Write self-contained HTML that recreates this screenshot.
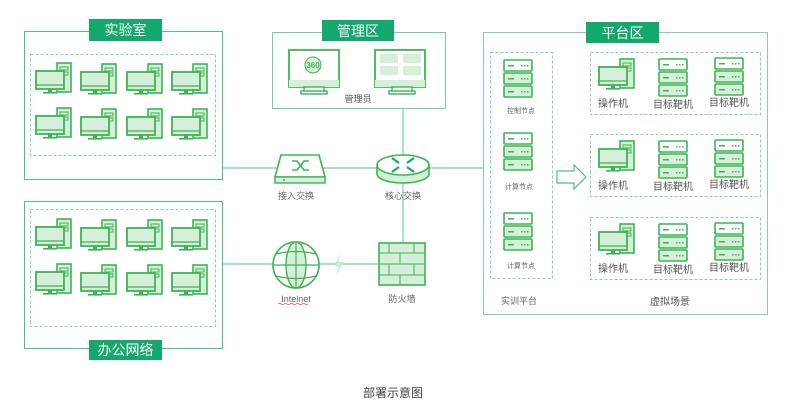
<!DOCTYPE html>
<html><head><meta charset="utf-8"><style>
html,body{margin:0;padding:0;background:#fff;}
svg{display:block;font-family:"Liberation Sans","Noto Sans CJK SC",sans-serif;}
</style></head><body>
<svg width="785" height="405" viewBox="0 0 785 405" xmlns="http://www.w3.org/2000/svg">
<defs>
<g id="pc">
  <rect x="22" y="1" width="14" height="29" fill="#d6efd9" stroke="#3cb553" stroke-width="1.6"/>
  <rect x="25" y="5" width="8" height="3" fill="none" stroke="#3cb553" stroke-width="1"/>
  <rect x="25" y="10" width="8" height="3" fill="none" stroke="#3cb553" stroke-width="1"/>
  <rect x="1" y="9" width="28" height="18" fill="#d6efd9" stroke="#3cb553" stroke-width="1.8"/>
  <line x1="1" y1="23" x2="29" y2="23" stroke="#3cb553" stroke-width="1.2"/>
  <rect x="13" y="27" width="4" height="3" fill="#3cb553"/>
  <rect x="8" y="30" width="14" height="1.6" fill="#3cb553"/>
</g>
<g id="srv">
  <rect x="1" y="1" width="28" height="11" rx="1" fill="#fff" stroke="#3cb553" stroke-width="1.6"/>
  <rect x="1" y="14" width="28" height="11" rx="1" fill="#d6efd9" stroke="#3cb553" stroke-width="1.6"/>
  <rect x="1" y="27" width="28" height="11" rx="1" fill="#d6efd9" stroke="#3cb553" stroke-width="1.6"/>
  <g fill="#3cb553">
   <rect x="5" y="6" width="6" height="1.5"/><rect x="18" y="6" width="1.5" height="1.5"/><rect x="21" y="6" width="1.5" height="1.5"/><rect x="24" y="6" width="1.5" height="1.5"/>
   <rect x="5" y="19" width="6" height="1.5"/><rect x="18" y="19" width="1.5" height="1.5"/><rect x="21" y="19" width="1.5" height="1.5"/><rect x="24" y="19" width="1.5" height="1.5"/>
   <rect x="5" y="32" width="6" height="1.5"/><rect x="18" y="32" width="1.5" height="1.5"/><rect x="21" y="32" width="1.5" height="1.5"/><rect x="24" y="32" width="1.5" height="1.5"/>
  </g>
</g>
</defs>

<!-- lines -->
<g stroke="#6fd0a6" stroke-width="1.2" fill="none">
  <line x1="222" y1="168" x2="483" y2="168"/>
  <line x1="403" y1="95" x2="403" y2="243"/>
  <line x1="222" y1="264" x2="379" y2="264"/>
</g>
<path d="M340 254 L334 266 L339 266 L336 276 L344 262 L339 262 Z" fill="#c6ecd6"/>

<!-- Lab -->
<rect x="24.5" y="31.5" width="198" height="148" fill="none" stroke="#4cc08a" stroke-width="1"/>
<rect x="30.5" y="54.5" width="185" height="101" fill="none" stroke="#7fd4ae" stroke-dasharray="3,2"/>
<rect x="89" y="19" width="73" height="22" fill="#14a96c"/>
<text x="125.5" y="35" font-size="14" fill="#fff" text-anchor="middle">实验室</text>
<use href="#pc" x="35" y="62"/><use href="#pc" x="80" y="63"/><use href="#pc" x="126" y="63"/><use href="#pc" x="171" y="63"/>
<use href="#pc" x="35" y="107"/><use href="#pc" x="80" y="108"/><use href="#pc" x="126" y="108"/><use href="#pc" x="171" y="108"/>

<!-- Office -->
<rect x="24.5" y="201.5" width="198" height="147" fill="none" stroke="#4cc08a" stroke-width="1"/>
<rect x="30.5" y="209.5" width="185" height="117" fill="none" stroke="#7fd4ae" stroke-dasharray="3,2"/>
<rect x="89" y="340" width="73" height="20" fill="#14a96c"/>
<text x="125.5" y="355" font-size="14" fill="#fff" text-anchor="middle">办公网络</text>
<use href="#pc" x="35" y="218"/><use href="#pc" x="80" y="219"/><use href="#pc" x="126" y="219"/><use href="#pc" x="171" y="219"/>
<use href="#pc" x="35" y="263"/><use href="#pc" x="80" y="264"/><use href="#pc" x="126" y="264"/><use href="#pc" x="171" y="264"/>

<!-- Mgmt -->
<rect x="272.5" y="32.5" width="173" height="76" fill="#fff" stroke="#6fd0a6" stroke-width="1"/>
<rect x="322" y="20" width="72" height="21" fill="#14a96c"/>
<text x="358" y="36" font-size="14" fill="#fff" text-anchor="middle">管理区</text>
<g stroke="#3cb553" stroke-width="1.8">
 <rect x="289" y="50" width="50" height="37" fill="#fff"/>
 <rect x="289" y="80" width="50" height="7" fill="#d6efd9" stroke-width="0"/>
 <rect x="304" y="87" width="20" height="5" fill="#fff" stroke-width="1.4"/>
 <rect x="301" y="91" width="26" height="3" fill="#fff" stroke-width="1.4"/>
 <rect x="375" y="50" width="50" height="37" fill="#fff"/>
 <rect x="375" y="80" width="50" height="7" fill="#d6efd9" stroke-width="0"/>
 <rect x="392" y="87" width="20" height="5" fill="#fff" stroke-width="1.4"/>
 <rect x="389" y="91" width="26" height="3" fill="#fff" stroke-width="1.4"/>
</g>
<circle cx="313" cy="65" r="8" fill="#d6efd9" stroke="#3cb553"/>
<text x="313" y="68" font-size="8" font-weight="bold" fill="#3cb553" text-anchor="middle">360</text>
<g fill="#d6efd9"><rect x="380" y="54" width="18" height="9"/><rect x="403" y="54" width="18" height="9"/><rect x="380" y="66" width="18" height="9"/><rect x="403" y="66" width="18" height="9"/></g>
<text x="358" y="102" font-size="9" fill="#555" text-anchor="middle">管理员</text>

<!-- switch -->
<path d="M281 155 L319 155 L325 177 L275 177 Z" fill="#fff" stroke="#3cb553" stroke-width="1.6"/>
<rect x="275" y="177" width="50" height="6" fill="#d6efd9" stroke="#3cb553" stroke-width="1.4"/>
<circle cx="284" cy="180" r="1" fill="#3cb553"/>
<path d="M292 161 h5 l7 9 h5 M292 170 h5 l7 -9 h5" fill="none" stroke="#3cb553" stroke-width="1.6"/>
<text x="296" y="199" font-size="9" fill="#666" text-anchor="middle">接入交换</text>

<!-- router -->
<path d="M377 165 v9 a26 9 0 0 0 52 0 v-9" fill="#d6efd9" stroke="#3cb553" stroke-width="1.6"/>
<ellipse cx="403" cy="165" rx="26" ry="10" fill="#fff" stroke="#3cb553" stroke-width="1.6"/>
<g stroke="#14a96c" stroke-width="2.2"><line x1="392" y1="158" x2="399" y2="163"/><line x1="414" y1="158" x2="407" y2="163"/><line x1="392" y1="172" x2="399" y2="167"/><line x1="414" y1="172" x2="407" y2="167"/></g>
<text x="403" y="199" font-size="9" fill="#666" text-anchor="middle">核心交换</text>

<!-- globe -->
<circle cx="296" cy="265" r="23" fill="#fff" stroke="#3cb553" stroke-width="1.6"/>
<ellipse cx="296" cy="265" rx="10" ry="23" fill="#d6efd9" stroke="#3cb553" stroke-width="1.4"/>
<line x1="296" y1="242" x2="296" y2="288" stroke="#3cb553" stroke-width="1.2"/>
<path d="M276 254 Q296 249 316 254 M273 265 H319 M276 276 Q296 281 316 276" fill="none" stroke="#3cb553" stroke-width="1.2"/>
<text x="296" y="302" font-size="9" fill="#666" text-anchor="middle">Intelnet</text>
<path d="M278 304 q1.5 -1.5 3 0 t3 0 t3 0 t3 0 t3 0 t3 0 t3 0 t3 0 t3 0 t3 0" fill="none" stroke="#e44" stroke-width="0.7"/>

<!-- firewall -->
<rect x="379" y="243" width="46" height="42" fill="#d6efd9" stroke="#3cb553" stroke-width="1.6"/>
<g stroke="#3cb553" stroke-width="1"><line x1="379" y1="253" x2="425" y2="253"/><line x1="379" y1="264" x2="425" y2="264"/><line x1="379" y1="275" x2="425" y2="275"/>
<line x1="389" y1="243" x2="389" y2="253"/><line x1="414" y1="243" x2="414" y2="253"/><line x1="400" y1="253" x2="400" y2="264"/><line x1="389" y1="264" x2="389" y2="275"/><line x1="414" y1="264" x2="414" y2="275"/><line x1="400" y1="275" x2="400" y2="285"/></g>
<text x="402" y="302" font-size="9" fill="#666" text-anchor="middle">防火墙</text>

<!-- platform -->
<rect x="483.5" y="32.5" width="284" height="282" fill="none" stroke="#7fd4ae" stroke-width="1"/>
<rect x="586" y="22" width="73" height="21" fill="#14a96c"/>
<text x="622.5" y="38" font-size="14" fill="#fff" text-anchor="middle">平台区</text>
<rect x="490.5" y="52.5" width="62" height="226" fill="none" stroke="#7fd4ae" stroke-dasharray="3,2"/>
<use href="#srv" x="503" y="59"/><use href="#srv" x="503" y="132"/><use href="#srv" x="503" y="212"/>
<text x="521" y="113" font-size="7" fill="#666" text-anchor="middle">控制节点</text>
<text x="519" y="189" font-size="7" fill="#666" text-anchor="middle">计算节点</text>
<text x="521" y="268" font-size="7" fill="#666" text-anchor="middle">计算节点</text>
<text x="519" y="304" font-size="9" fill="#666" text-anchor="middle">实训平台</text>
<path d="M557 171 h17 v-6 l12 12 l-12 12 v-6 h-17 z" fill="#fff" stroke="#4cc08a" stroke-width="1.2"/>
<g fill="none" stroke="#7fd4ae" stroke-dasharray="3,2">
 <rect x="590.5" y="52.5" width="170" height="62"/>
 <rect x="590.5" y="134.5" width="170" height="62"/>
 <rect x="590.5" y="217.5" width="170" height="62"/>
</g>
<g font-size="10" fill="#555" text-anchor="middle">
<use href="#pc" x="598" y="58"/><use href="#srv" x="658" y="58"/><use href="#srv" x="714" y="57"/>
<text x="613" y="107">操作机</text><text x="673" y="108">目标靶机</text><text x="729" y="106">目标靶机</text>
<use href="#pc" x="598" y="140"/><use href="#srv" x="658" y="140"/><use href="#srv" x="714" y="139"/>
<text x="613" y="189">操作机</text><text x="673" y="190">目标靶机</text><text x="729" y="188">目标靶机</text>
<use href="#pc" x="598" y="223"/><use href="#srv" x="658" y="223"/><use href="#srv" x="714" y="222"/>
<text x="613" y="272">操作机</text><text x="673" y="273">目标靶机</text><text x="729" y="271">目标靶机</text>
<text x="670" y="305">虚拟场景</text>
</g>

<text x="393" y="397" font-size="12" fill="#444" text-anchor="middle">部署示意图</text>
</svg>
</body></html>
